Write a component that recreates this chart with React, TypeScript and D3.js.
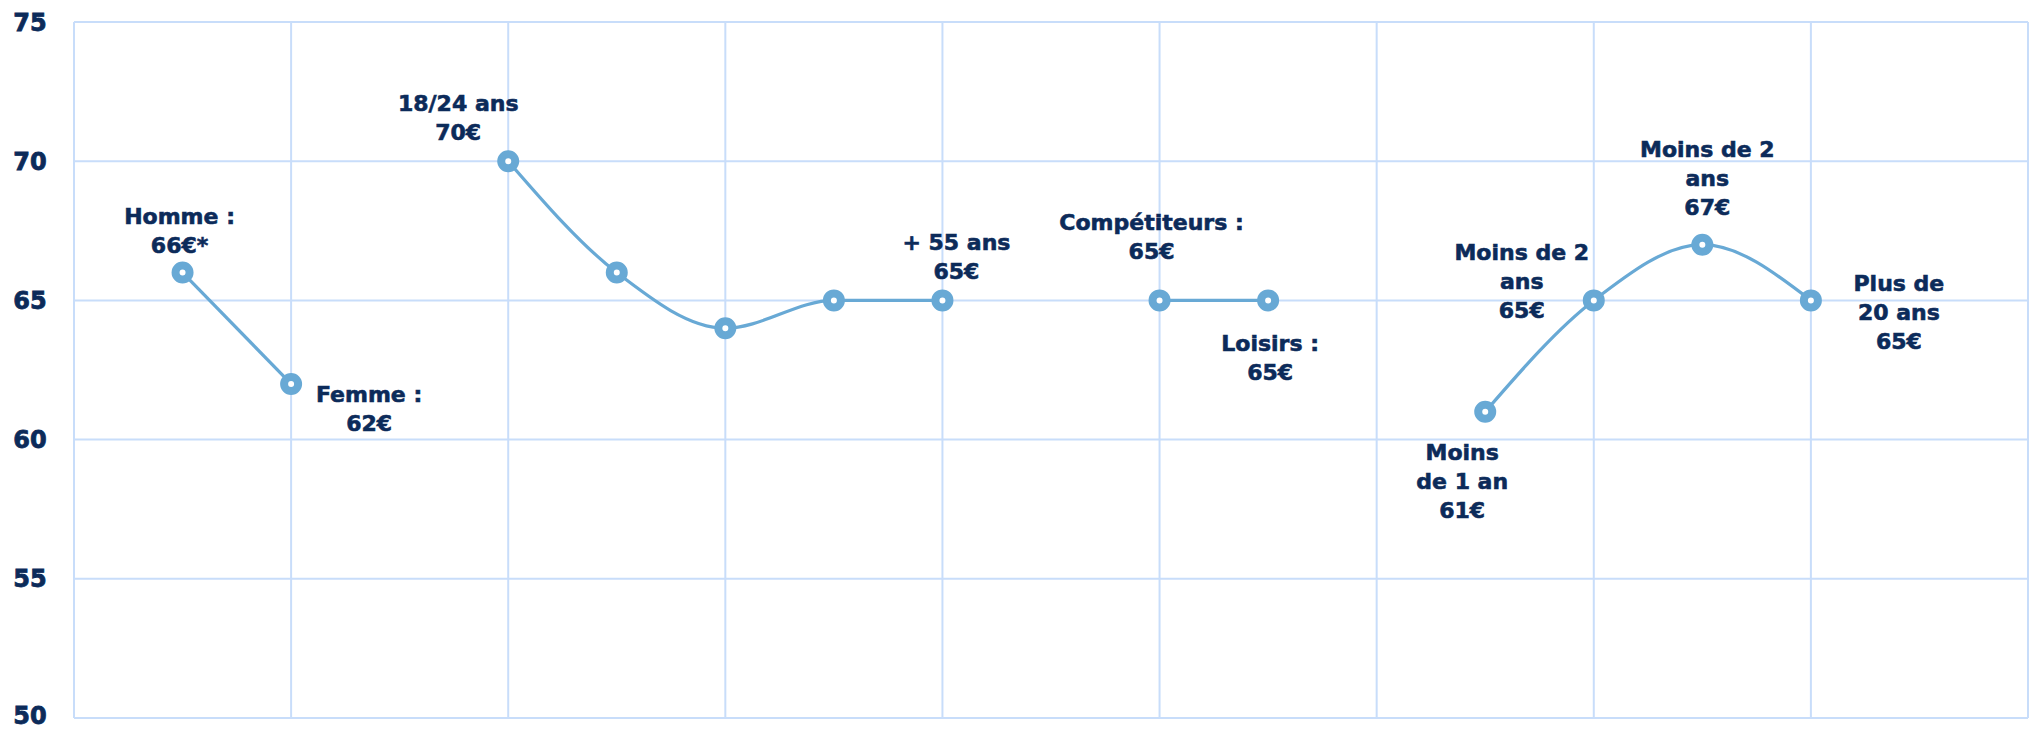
import React from "react";
import * as d3 from "d3";

// ---- data ----
const categories = [
  "Homme", "Femme",
  "18/24 ans", "25/34 ans", "35/44 ans", "45/54 ans", "+ 55 ans",
  "Compétiteurs", "Loisirs",
  "Moins de 1 an", "Moins de 2 ans", "Moins de 2 ans (bis)", "Plus de 20 ans",
];
// slot of each category on the 0..18 category axis (gaps separate groups)
const slots = [1, 2, 4, 5, 6, 7, 8, 10, 11, 13, 14, 15, 16];
const values = [66, 62, 70, 66, 64, 65, 65, 65, 65, 61, 65, 67, 65];
const groupOf = [0, 0, 1, 1, 1, 1, 1, 2, 2, 3, 3, 3, 3];
const labelTexts: string[][] = [
  ["Homme :", "66€*"],
  ["Femme :", "62€"],
  ["18/24 ans", "70€"],
  [],
  [],
  [],
  ["+ 55 ans", "65€"],
  ["Compétiteurs :", "65€"],
  ["Loisirs :", "65€"],
  ["Moins", "de 1 an", "61€"],
  ["Moins de 2", "ans", "65€"],
  ["Moins de 2", "ans", "67€"],
  ["Plus de", "20 ans", "65€"],
];
const yTicks = [50, 55, 60, 65, 70, 75];
const slotDomain = [0, 18];
const gridSlots = [0, 2, 4, 6, 8, 10, 12, 14, 16, 18];

// ---- layout (label offsets relative to their point, px) ----
const labelOffsets: [number, number][] = [
  [-3, -49], [78, 18], [-50, -50], [0, 0], [0, 0], [0, 0], [14, -50],
  [-8, -70], [2, 51], [-23, 48], [-72, -40], [5, -88], [88, -9],
];

const W = 2036, H = 730;
const M = { left: 74, right: 8, top: 22, bottom: 12 };
const TEXT = "#0c2b5a";
const LINE = "#68a9d5";
const GRID = "#c8ddfa";
const FONT = "'DejaVu Sans', sans-serif";

export default function App() {
  const x = d3.scaleLinear().domain(slotDomain).range([M.left, W - M.right]);
  const y = d3.scaleLinear().domain([50, 75]).range([H - M.bottom, M.top]);

  const pts = values.map((v, i) => ({ i, x: x(slots[i]), y: y(v), g: groupOf[i] }));
  const groups = d3.groups(pts, (p) => p.g).map((d) => d[1]);
  const line = d3
    .line<{ x: number; y: number }>()
    .x((d) => d.x)
    .y((d) => d.y)
    .curve(d3.curveMonotoneX);

  return (
    <div style={{ position: "absolute", left: 0, top: 0 }}>
      <svg width={W} height={H} style={{ display: "block", background: "#fff" }}>
        {/* grid */}
        <g>
          {yTicks.map((t) => (
            <line key={"h" + t} x1={M.left} x2={W - M.right} y1={y(t)} y2={y(t)} stroke={GRID} strokeWidth={2} />
          ))}
          {gridSlots.map((s) => (
            <line key={"v" + s} x1={x(s)} x2={x(s)} y1={M.top} y2={H - M.bottom} stroke={GRID} strokeWidth={2} />
          ))}
        </g>
        {/* y axis labels */}
        <g>
          {yTicks.map((t) => (
            <text
              key={"t" + t}
              x={30}
              y={Math.min(y(t), H - 15)}
              dy="0.36em"
              textAnchor="middle"
              fontFamily={FONT}
              fontWeight={700}
              fontSize={24}
              fill={TEXT}
              stroke={TEXT}
              strokeWidth={0.8}
            >
              {t}
            </text>
          ))}
        </g>
        {/* lines */}
        {groups.map((g, k) => (
          <path key={"l" + k} d={line(g) || ""} fill="none" stroke={LINE} strokeWidth={3.2} />
        ))}
        {/* markers */}
        {pts.map((p) => (
          <circle key={"c" + p.i} cx={p.x} cy={p.y} r={7} fill="#fff" stroke={LINE} strokeWidth={8} />
        ))}
        {/* labels */}
        {pts.map((p) =>
          labelTexts[p.i].length ? (
            <text
              key={"lab" + p.i}
              x={p.x + labelOffsets[p.i][0]}
              y={p.y + labelOffsets[p.i][1]}
              textAnchor="middle"
              fontFamily={FONT}
              fontWeight={700}
              fontSize={22}
              fill={TEXT}
              stroke={TEXT}
              strokeWidth={0.6}
            >
              {labelTexts[p.i].map((s, j) => (
                <tspan key={j} x={p.x + labelOffsets[p.i][0]} dy={j === 0 ? 0 : 29}>
                  {s}
                </tspan>
              ))}
            </text>
          ) : null
        )}
      </svg>
    </div>
  );
}
